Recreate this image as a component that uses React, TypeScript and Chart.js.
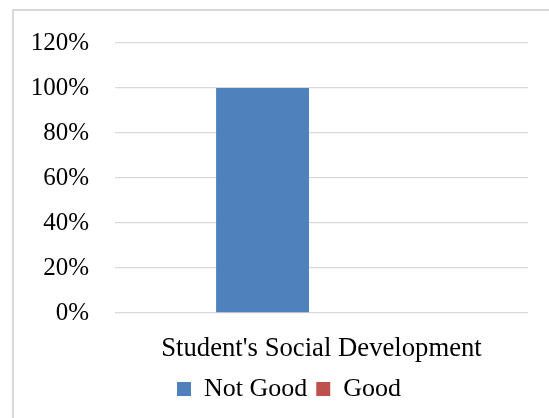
import { useEffect, useRef } from "react";
import { Chart, registerables, ChartConfiguration, Plugin } from "chart.js";

Chart.register(...registerables);

// chart values
const categories = ["Student's Social Development"];
const notGoodValues = [100];
const goodValues = [0];
const seriesNames = ["Not Good", "Good"];
const yTicks = [0, 20, 40, 60, 80, 100, 120];

const FONT = "'Liberation Serif', 'Times New Roman', serif";

// nudge the legend a bit right, like the original
const legendShift: Plugin = {
  id: "legendShift",
  afterLayout(chart) {
    const lg = chart.legend;
    if (!lg) return;
    lg.left += 25;
    lg.right += 25;
    if (lg.legendHitBoxes) {
      lg.legendHitBoxes.forEach((b) => {
        b.left += 25;
      });
    }
  },
};

export default function App() {
  const chartRef = useRef<HTMLCanvasElement>(null);
  const chartInstance = useRef<Chart | null>(null);

  useEffect(() => {
    if (!chartRef.current) return;
    if (chartInstance.current) chartInstance.current.destroy();

    const ctx = chartRef.current.getContext("2d");
    if (!ctx) return;

    const config: ChartConfiguration = {
      type: "bar",
      data: {
        labels: categories,
        datasets: [
          {
            label: seriesNames[0],
            data: notGoodValues,
            backgroundColor: "#4F81BD",
            categoryPercentage: 0.571,
            barPercentage: 0.788,
          },
          {
            label: seriesNames[1],
            data: goodValues,
            backgroundColor: "#C0504D",
            categoryPercentage: 0.571,
            barPercentage: 0.788,
          },
        ],
      },
      options: {
        responsive: false,
        animation: false,
        layout: {
          padding: { left: 0, right: 21, top: 43, bottom: 6 },
        },
        plugins: {
          tooltip: { enabled: false },
          legend: {
            position: "bottom",
            labels: {
              color: "#000",
              font: { family: FONT, size: 26 },
              boxWidth: 14,
              boxHeight: 14,
              padding: 9,
            },
          },
        },
        scales: {
          x: {
            grid: { display: false, drawTicks: false },
            border: { display: false },
            ticks: {
              color: "#000",
              font: { family: FONT, size: 26.7 },
              padding: 20,
            },
            afterFit: (scale) => {
              scale.height = 54;
            },
          },
          y: {
            min: 0,
            max: 120,
            afterBuildTicks: (scale) => {
              scale.ticks = yTicks.map((v) => ({ value: v }));
            },
            grid: { color: "#d9d9d9", lineWidth: 1.3, drawTicks: false },
            border: { display: false },
            ticks: {
              color: "#000",
              font: { family: FONT, size: 25 },
              padding: 26,
              callback: (value) => value + "%",
            },
            afterFit: (scale) => {
              scale.width = 115;
            },
          },
        },
      },
      plugins: [legendShift],
    };

    chartInstance.current = new Chart(ctx, config);

    return () => {
      if (chartInstance.current) {
        chartInstance.current.destroy();
        chartInstance.current = null;
      }
    };
  }, []);

  return (
    <div
      style={{
        position: "fixed",
        left: 0,
        top: 0,
        width: 549,
        height: 418,
        overflow: "hidden",
        background: "#fff",
      }}
    >
      <div
        style={{
          position: "absolute",
          left: 12,
          top: 9,
          width: 600,
          height: 500,
          border: "2px solid #d9d9d9",
        }}
      />
      <canvas
        ref={chartRef}
        width={549}
        height={418}
        style={{ position: "absolute", left: 0, top: 0 }}
      ></canvas>
    </div>
  );
}
